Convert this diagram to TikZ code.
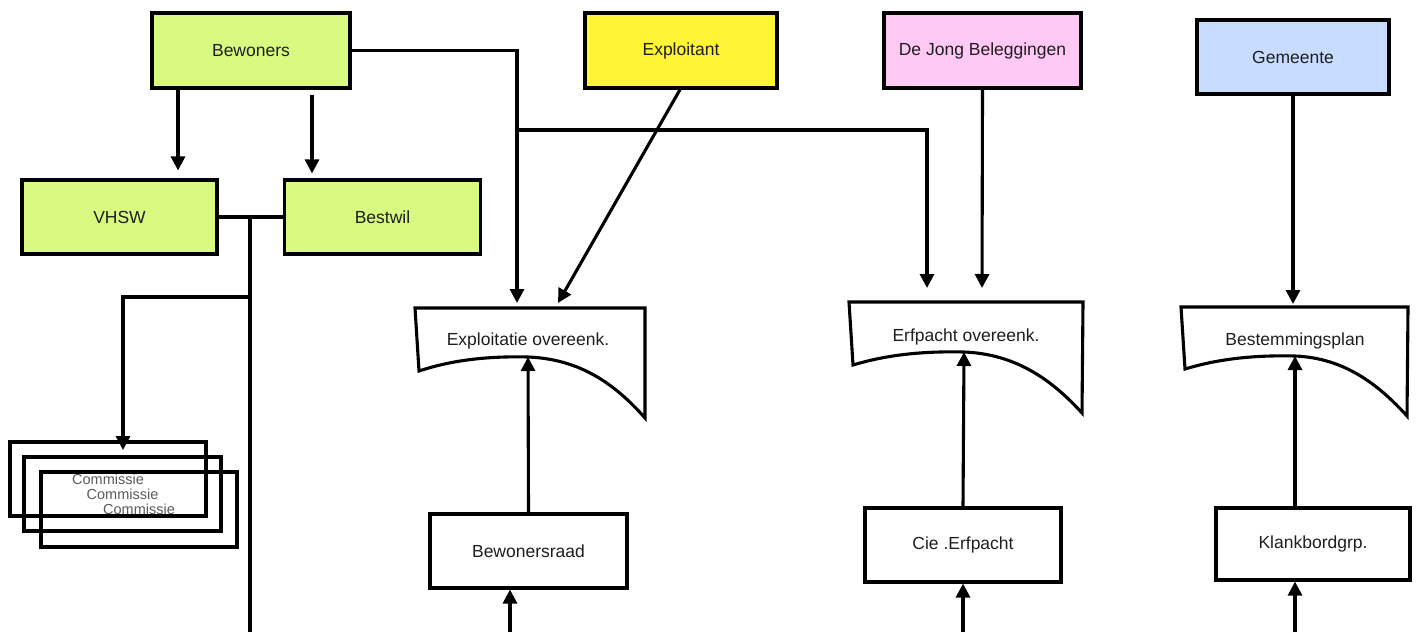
\documentclass[tikz,border=0pt]{standalone}
\usepackage{fontspec}
\setmainfont{Liberation Sans}
\usetikzlibrary{arrows.meta}
\definecolor{cgreen}{RGB}{216,250,128}
\definecolor{cyellow}{RGB}{255,245,54}
\definecolor{cpink}{RGB}{255,200,245}
\definecolor{cblue}{RGB}{200,220,255}
\definecolor{ctext}{RGB}{30,30,30}
\definecolor{cgrey}{RGB}{90,90,90}
\begin{document}
\begin{tikzpicture}[x=1pt,y=-1pt,
  every node/.style={font=\fontsize{17.5}{20}\selectfont, text=ctext},
  box/.style={draw, line width=3.1pt, inner sep=0pt, minimum width=196pt, minimum height=74pt},
  comm/.style={draw, line width=3.1pt, inner sep=0pt, minimum width=196pt, minimum height=74pt, font=\fontsize{14.5}{16}\selectfont, text=cgrey},
  doc/.style={draw, line width=3.1pt, line join=miter},
  con/.style={line width=3.1pt},
  arr/.style={line width=3.1pt, -{Triangle[length=14pt,width=14pt]}}]
\useasboundingbox (0,0) rectangle (1420,632);
% top row
\node[box, fill=cgreen, minimum width=198pt, minimum height=75pt] (bew) at (251,50.5) {Bewoners};
\node[box, fill=cyellow, minimum width=192pt, minimum height=75pt] (expl) at (681,50.5) {Exploitant};
\node[box, fill=cpink, minimum width=197pt, minimum height=75pt] (dejong) at (982.5,50.5) {De Jong Beleggingen};
\node[box, fill=cblue, minimum width=192pt] (gem) at (1293,57) {Gemeente};
% second row
\node[box, fill=cgreen, minimum width=195pt] (vhsw) at (119.5,217) {VHSW};
\node[box, fill=cgreen] (bestwil) at (382.5,217) {Bestwil};
% commissie stack
\node[comm] (c1) at (108,479) {Commissie};
\node[comm, minimum width=197pt] (c2) at (122.5,494) {Commissie};
\node[comm, minimum height=75pt] (c3) at (139,509.5) {Commissie};
% documents
\draw[doc] (415,308) -- (645,308) -- (645,418) .. controls (615,384) and (580,359) .. (528,357) .. controls (488,356) and (452,360) .. (419,371) -- cycle;
\node (expdoc) at (528,341) {Exploitatie overeenk.};
\coordinate (exppeak) at (528,357);
\draw[doc] (849,302) -- (1083,302) -- (1082,413) .. controls (1052,380) and (1016,354) .. (964,352) .. controls (922,351) and (886,355) .. (853,365) -- cycle;
\node (erfdoc) at (966,337) {Erfpacht overeenk.};
\coordinate (erfpeak) at (964,352);
\draw[doc] (1181,307) -- (1408,307) -- (1407,416) .. controls (1378,384) and (1344,358) .. (1295,356) .. controls (1253,355) and (1218,359) .. (1185,369) -- cycle;
\node (bestdoc) at (1295,341) {Bestemmingsplan};
\coordinate (bestpeak) at (1295,356);
% bottom row
\node[box, minimum width=197pt] (braad) at (528.5,551) {Bewonersraad};
\node[box] (cie) at (963,545) {Cie .Erfpacht};
\node[box, minimum width=194pt, minimum height=72pt] (klank) at (1313,544) {Klankbordgrp.};
% coordinates
\coordinate (xa) at (178,0);
\coordinate (xb) at (312,0);
\coordinate (expin1) at (517,303);
\coordinate (expin2) at (558,303);
\coordinate (br) at (517,130);
\coordinate (erfin1) at (927,288);
\coordinate (erfin2) at (982,288);
\coordinate (bestin) at (1293,304);
\coordinate (j) at (250,217);
\coordinate (jb) at (250,632);
\coordinate (k) at (250,297);
\coordinate (cin) at (123,450);
\coordinate (b1) at (510,632);
\coordinate (b2) at (963,632);
\coordinate (b3) at (1295,632);
\coordinate (kt) at (1295,508);
% connectors
\draw[arr] (bew.east) -| (expin1);
\draw[arr] (br) -| (erfin1);
\draw[arr] ([xshift=-1pt]expl.south) -- (expin2);
\draw[arr] (dejong.south) -- (erfin2);
\draw[arr] (gem.south) -- (bestin);
\draw[arr, shorten >=8pt] (bew.south -| xa) -- (vhsw.north -| xa);
\draw[arr, shorten <=5pt, shorten >=5pt] (bew.south -| xb) -- (bestwil.north -| xb);
\draw[con] (vhsw.east) -- (bestwil.west);
\draw[con] (j) -- (jb);
\draw[arr] (k) -| (cin);
\draw[arr] (braad.north) -- (exppeak);
\draw[arr] (cie.north) -- (erfpeak);
\draw[arr] (kt) -- (bestpeak);
\draw[arr] (b1) -- (braad.south -| b1);
\draw[arr] (b2) -- (cie.south -| b2);
\draw[arr] (b3) -- (klank.south -| b3);
\end{tikzpicture}
\end{document}
